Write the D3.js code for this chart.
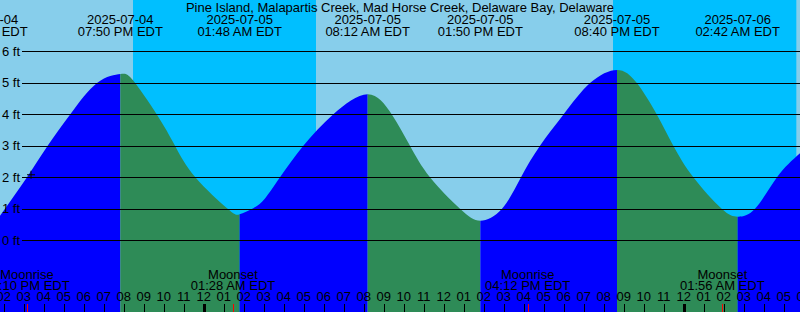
<!DOCTYPE html>
<html>
<head>
<meta charset="utf-8">
<script src="https://cdn.jsdelivr.net/npm/d3@7"></script>
<style>
	body { margin: 0; background: #fff; }
	svg { display: block; font-family: "Liberation Sans", Arial, sans-serif; font-size: 13px; }
</style>
</head>
<body>
<div id="chart-area"></div>
<script>

// SVG Size
let width = 800,
	height = 312;

// Station and window shown (EDT wall clock)
const stationName = "Pine Island, Malapartis Creek, Mad Horse Creek, Delaware Bay, Delaware";
const windowStart = "2025-07-04 13:49";
const windowEnd = "2025-07-06 05:49";

// Tide level (ft)
const sampleTimes = [
	"2025-07-04 13:49", "2025-07-04 15:10", "2025-07-04 16:12", "2025-07-04 17:20", "2025-07-04 18:41",
	"2025-07-04 19:50", "2025-07-04 20:28", "2025-07-04 21:39", "2025-07-04 22:34", "2025-07-04 23:35",
	"2025-07-05 01:12", "2025-07-05 01:48", "2025-07-05 02:29", "2025-07-05 03:04", "2025-07-05 03:49",
	"2025-07-05 04:59", "2025-07-05 06:29", "2025-07-05 08:12", "2025-07-05 09:24", "2025-07-05 10:19",
	"2025-07-05 11:19", "2025-07-05 12:49", "2025-07-05 13:50", "2025-07-05 14:55", "2025-07-05 15:52",
	"2025-07-05 16:49", "2025-07-05 18:00", "2025-07-05 19:20", "2025-07-05 20:40", "2025-07-05 21:39",
	"2025-07-05 22:39", "2025-07-05 23:29", "2025-07-06 00:29", "2025-07-06 01:54", "2025-07-06 02:42",
	"2025-07-06 03:34", "2025-07-06 04:40", "2025-07-06 05:49"
];
const sampleHeights = [
	0.78, 2.0, 3.0, 4.0, 5.0,
	5.28, 5.08, 4.0, 3.0, 2.0,
	1.0, 0.83, 1.02, 1.33, 2.0,
	3.0, 4.0, 4.64, 4.0, 3.0,
	2.0, 1.0, 0.62, 1.0, 2.0,
	3.0, 4.0, 5.0, 5.41, 5.0,
	4.0, 3.0, 2.0, 1.0, 0.75,
	1.0, 2.0, 2.76
];

// High / low tide events
const tideTimes = ["2025-07-04 13:04", "2025-07-04 19:50", "2025-07-05 01:48", "2025-07-05 08:12",
	"2025-07-05 13:50", "2025-07-05 20:40", "2025-07-06 02:42"];
const tideTypes = ["Low", "High", "Low", "High", "Low", "High", "Low"];

// Sun and moon events
const sunTimes = ["2025-07-04 20:28", "2025-07-05 05:37", "2025-07-05 20:28", "2025-07-06 05:38"];
const sunTypes = ["Sunset", "Sunrise", "Sunset", "Sunrise"];
const moonTimes = ["2025-07-04 15:10", "2025-07-05 01:28", "2025-07-05 16:12", "2025-07-06 01:56"];
const moonTypes = ["Moonrise", "Moonset", "Moonrise", "Moonset"];

// Current time mark
const markTime = "2025-07-04 15:22";
const markHeight = 2.08;

// Level lines
const levelTicks = [0, 1, 2, 3, 4, 5, 6];

const parseTime = d3.utcParse("%Y-%m-%d %H:%M");
const fmtDate = d3.utcFormat("%Y-%m-%d");
const fmtClock = d3.utcFormat("%I:%M %p EDT");
const fmtHour = d3.utcFormat("%I");

drawTideGraph();

function drawTideGraph() {

	let svg = d3.select("#chart-area")
		.append("svg")
		.attr("width", width)
		.attr("height", height);

	const start = parseTime(windowStart),
		end = parseTime(windowEnd);

	const x = d3.scaleUtc()
		.domain([start, end])
		.range([0, width]);

	const y = d3.scaleLinear()
		.domain([0, 6])
		.range([240.3, 51.3]);

	// Day / night background
	svg.append("rect")
		.attr("width", width)
		.attr("height", height)
		.attr("fill", "#87ceeb");

	let sun = sunTimes.map((t, i) => ({ time: parseTime(t), type: sunTypes[i] }));
	sun.forEach((d, i) => {
		if (d.type !== "Sunset") return;
		let x0 = x(d.time),
			x1 = i + 1 < sun.length ? x(sun[i + 1].time) : width;
		svg.append("rect")
			.attr("x", x0)
			.attr("y", 0)
			.attr("width", x1 - x0)
			.attr("height", height)
			.attr("fill", "#00bfff");
	});

	// Tide area, blue while rising and green while falling
	const samples = sampleTimes.map((t, i) => ({ time: parseTime(t), height: sampleHeights[i] }));
	const area = d3.area()
		.x(d => x(d.time))
		.y0(height)
		.y1(d => y(d.height))
		.curve(d3.curveNatural);

	const tides = tideTimes.map((t, i) => ({ time: parseTime(t), type: tideTypes[i] }));
	let defs = svg.append("defs");
	tides.forEach((d, i) => {
		let x0 = Math.max(0, x(d.time)),
			x1 = i + 1 < tides.length ? x(tides[i + 1].time) : width;
		if (x1 <= 0) return;
		defs.append("clipPath")
			.attr("id", "seg" + i)
			.append("rect")
			.attr("x", x0)
			.attr("y", 0)
			.attr("width", x1 - x0)
			.attr("height", height);
		svg.append("path")
			.datum(samples)
			.attr("d", area)
			.attr("clip-path", "url(#seg" + i + ")")
			.attr("fill", d.type === "Low" ? "#0000ff" : "#2e8b57");
	});

	// Level lines and labels
	svg.selectAll(".level")
		.data(levelTicks)
		.enter()
		.append("line")
		.attr("x1", 22)
		.attr("x2", width)
		.attr("y1", d => Math.round(y(d)) + 0.5)
		.attr("y2", d => Math.round(y(d)) + 0.5)
		.attr("stroke", "black");

	svg.selectAll(".level-label")
		.data(levelTicks)
		.enter()
		.append("text")
		.attr("x", 2)
		.attr("y", d => y(d) + 4.5)
		.text(d => d + " ft");

	// Current time mark
	let mx = x(parseTime(markTime)),
		my = y(markHeight);
	svg.append("path")
		.attr("d", `M${mx - 4},${my}H${mx + 4}M${mx},${my - 4}V${my + 4}`)
		.attr("stroke", "black")
		.attr("fill", "none");

	// Title
	svg.append("text")
		.attr("x", width / 2)
		.attr("y", 11.5)
		.attr("text-anchor", "middle")
		.text(stationName);

	// Tide event labels
	tides.forEach(d => {
		svg.append("text")
			.attr("x", x(d.time))
			.attr("y", 23.5)
			.attr("text-anchor", "middle")
			.text(fmtDate(d.time));
		svg.append("text")
			.attr("x", x(d.time))
			.attr("y", 36)
			.attr("text-anchor", "middle")
			.text(fmtClock(d.time));
	});

	// Moon event labels
	const moons = moonTimes.map((t, i) => ({ time: parseTime(t), type: moonTypes[i] }));
	moons.forEach(d => {
		svg.append("text")
			.attr("x", x(d.time))
			.attr("y", 279)
			.attr("text-anchor", "middle")
			.text(d.type);
		svg.append("text")
			.attr("x", x(d.time))
			.attr("y", 290)
			.attr("text-anchor", "middle")
			.text(fmtClock(d.time));
	});

	// Hour ticks along the bottom
	const hours = d3.utcHour.range(d3.utcHour.offset(start, -1), d3.utcHour.offset(end, 2));
	svg.selectAll(".hour-label")
		.data(hours)
		.enter()
		.append("text")
		.attr("x", d => x(d))
		.attr("y", 300.5)
		.attr("text-anchor", "middle")
		.text(d => fmtHour(d));

	svg.selectAll(".hour-tick")
		.data(hours)
		.enter()
		.append("line")
		.attr("x1", d => Math.round(x(d)) + 0.5)
		.attr("x2", d => Math.round(x(d)) + 0.5)
		.attr("y1", 304)
		.attr("y2", height)
		.attr("stroke", "black")
		.attr("stroke-width", d => d.getUTCHours() === 0 ? 3 : 1);

	svg.selectAll(".moon-tick")
		.data(moons)
		.enter()
		.append("line")
		.attr("x1", d => Math.round(x(d.time)) + 0.5)
		.attr("x2", d => Math.round(x(d.time)) + 0.5)
		.attr("y1", 304)
		.attr("y2", height)
		.attr("stroke", "red");
}

</script>
</body>
</html>
